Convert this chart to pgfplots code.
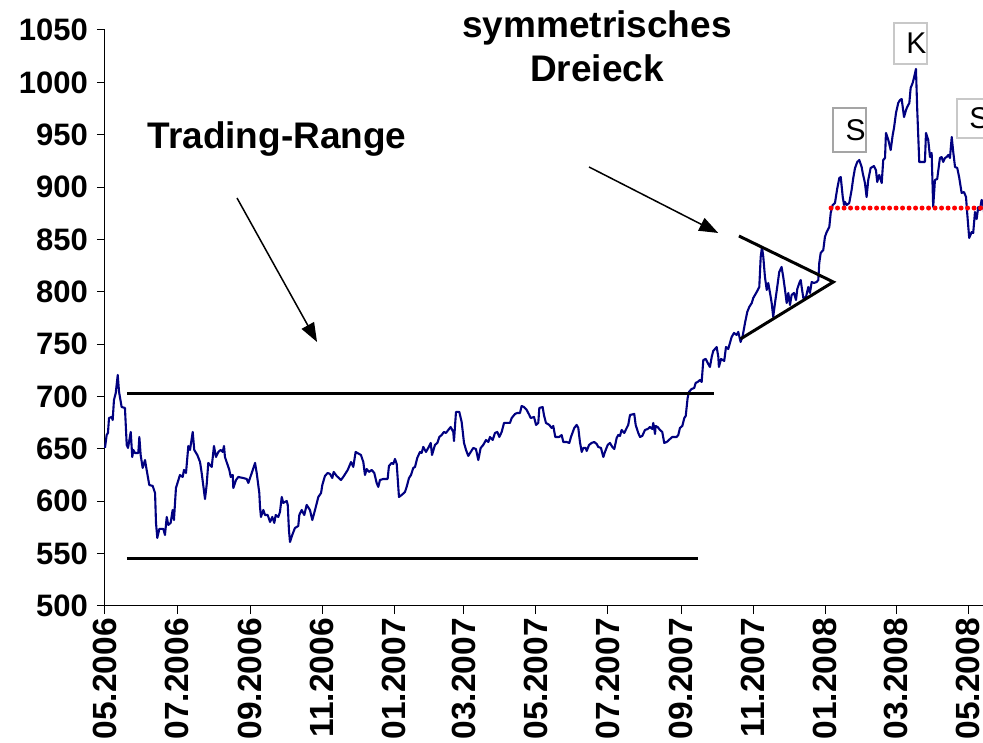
\documentclass[border=0pt]{standalone}
\usepackage{pgfplots}
\pgfplotsset{compat=1.18}
\usepackage{fontspec}
\setmainfont{Liberation Sans}
\usetikzlibrary{arrows.meta}
\definecolor{navy}{RGB}{0,0,128}
\definecolor{boxgrayA}{RGB}{165,165,165}
\definecolor{boxgrayB}{RGB}{200,200,200}
\begin{document}
\begin{tikzpicture}[x=1pt,y=1pt]
\path[use as bounding box, clip] (0,0) rectangle (983,742);
\begin{axis}[
  at={(105pt,136pt)}, anchor=south west,
  scale only axis, width=878pt, height=576pt,
  xmin=0, xmax=743.7, ymin=500, ymax=1050,
  axis lines=left, axis line style={-, line width=1pt, black},
  clip=false,
  xtick={0,61,123,184,245,304,365,426,488,549,610,670,731},
  xticklabels={05.2006,07.2006,09.2006,11.2006,01.2007,03.2007,05.2007,07.2007,09.2007,11.2007,01.2008,03.2008,05.2008},
  ytick={500,550,...,1050},
  tick align=outside, major tick length=8pt,
  tick style={black, line width=1pt},
  /pgf/number format/assume math mode=true,
  /pgf/number format/set thousands separator={},
  yticklabel style={font=\bfseries\fontsize{31}{31}\selectfont, anchor=east, inner sep=0pt},
  yticklabel shift=9pt,
  xticklabel style={font=\bfseries\fontsize{33.5}{33.5}\selectfont, rotate=90, anchor=east, inner sep=0pt},
  xticklabel shift=4pt,
]
\addplot[navy, line width=2.1pt, mark=none, line join=round] coordinates {
(0,651)(1.4,663.3)(2.5,665.2)(3.4,679.5)(5.7,680.5)(6.5,677.6)(7.6,696.7)(9.1,703.4)(10.8,720.6)(11.9,704.4)(14.1,690)(16.9,689.1)(18.4,653.8)(19.5,650.9)(21.8,666.2)(23.1,642.3)(24,649)(25.4,646.1)(28.2,646.1)(29.1,661.4)(30.2,644.2)(31.9,631.8)(33.9,639.4)(35.3,629.9)(37.5,615.6)(40.4,614.6)(42.4,607.9)(43.2,579.3)(44.3,565)(46,573.6)(49.4,573.6)(50.8,567.8)(52.3,585)(53.6,577.4)(55.6,579.3)(57.3,591.7)(58.4,582.1)(60.1,612.7)(63.5,625.1)(65.8,623.2)(66.9,629.9)(68.6,627)(70.6,652.8)(72,649)(74.3,666.2)(75.6,649)(78.2,644.2)(80.5,637.5)(81.9,627)(84.7,602.2)(86.1,615.6)(87.5,636.6)(90.4,632.8)(92.3,652.8)(94,642.3)(96,647.1)(98,649)(99.7,647.1)(100.8,652.8)(101.6,642.3)(105.3,629.9)(106.5,623.2)(108.2,625.1)(108.7,612.7)(111,620.3)(112.9,623.2)(117.1,622.2)(120,621.3)(121.4,617.5)(124.3,627)(127.1,636.6)(128.5,627)(130.7,607.9)(131.3,594.6)
(132.1,585)(134.1,591.7)(135.5,586.9)(137.8,586.9)(139.8,580.2)(141.7,585)(143.4,579.3)(144.6,586.9)(146.8,585)(148.2,589.8)(149.7,604.1)(151,598.4)(153.9,600.3)(154.8,596.5)(155.8,572.6)(156.7,561.1)(158.6,567.8)(160.9,574.5)(163.7,576.4)(164.6,586.9)(166.6,591.7)(168.8,586.9)(170.8,596.5)(173.6,591.7)(175.6,582.1)(177.9,591.7)(180.7,604.1)(183,607.9)(184.1,615.6)(186.3,624.2)(188.6,627)(190.6,626.1)(192.5,622.2)(193.7,628)(196.2,624.2)(199.9,620.3)(201.8,623.2)(205.6,629.9)(208.4,637.5)(210.3,632.8)(212.3,647.1)(216.8,644.2)(218.8,637.5)(220.2,625.1)(221.7,630.8)(223.6,628)(225.9,629.9)(228.1,627)(230.1,617.5)(231.5,613.7)(232.9,620.3)(235.7,621.3)(239.4,621.3)(240.5,633.7)(242.8,636.6)(244.2,635.6)(245.6,640.4)(247.1,635.6)(249,604.1)(251.3,606)(254.1,608.9)(255.5,613.7)(257.5,622.2)(259.2,625.1)(261.1,631.8)(262.6,632.8)
(264.5,641.4)(266.8,647.1)(268.2,646.1)(269.6,651.9)(271.9,647.1)(273.8,650.9)(275.9,655.7)(277,644.2)(279.5,653.8)(281.5,655.7)(283.2,661.4)(285.2,663.3)(287.1,666.2)(288.8,665.2)(290.8,668.1)(292.8,670.9)(295,666.2)(295.6,657.6)(297.3,685.3)(300.1,685.3)(302.1,675.7)(304.1,655.7)(305.8,649)(307.7,643.3)(309.8,647.1)(311.9,650.9)(314.2,649.9)(316.2,639.4)(318.2,650.9)(320.4,653.8)(322.7,658.5)(324.7,656.6)(326.1,661.4)(328.4,658.5)(330.3,665.2)(332.3,666.2)(334,661.4)(336,666.2)(338,674.8)(343,674.8)(344.5,679.5)(347.3,683.4)(349.2,684.3)(351.5,684.3)(352.9,691)(354.9,690)(357.2,687.2)(359.4,682.4)(360.6,679.5)(363.4,680.5)(365.1,672.9)(367,674.8)(367.9,689.1)(370.7,690)(371.8,682.4)(373.5,674.8)(376.3,672.9)(378.3,670)(379.7,671.9)(381.4,661.4)(384.7,661.4)(386.8,663.3)(388.2,656.6)(391,656.6)(393.3,655.7)
(394.7,661.4)(397.5,670)(399.5,672.9)(400.9,670)(402.3,656.6)(403.8,647.1)(405.1,650.9)(407.2,650.9)(408,648)(410,653.8)(412.2,655.7)(414.4,656.6)(416.5,654.7)(417.8,651.9)(420.1,650.9)(422.1,642.3)(423.5,647.1)(425.8,653.8)(427.7,655.7)(429.7,651.9)(431.4,649.9)(433.4,660.5)(434.8,663.3)(436.2,662.4)(437.6,668.1)(439.8,665.2)(441.9,670)(443.2,672.9)(444.7,682.4)(448.3,683.4)(449.5,672.9)(451.7,665.2)(453.2,661.4)(455.1,662.4)(457.4,668.1)(459.7,669)(461.6,670.9)(463.6,669)(464.4,674.8)(465.9,664.3)(466.4,671.9)(468.1,670.9)(470.1,668.1)(472,666.2)(473.7,655.7)(475.8,656.6)(478.6,659.5)(480.5,661.4)(484.2,661.4)(485.6,663.3)(487,670)(489,671.9)(490.7,679.5)(491.9,681.5)(493.5,698.6)(494.6,704.4)(496.9,707.2)(499.1,708.2)(500.3,713)(502,713.9)(504,715.8)(505.4,713.9)(506.8,734.9)(508.8,735.9)(510.5,732.1)(512.4,728.2)(513.9,737.8)(515.2,743.5)(518.1,747.3)(519.5,737.8)(520,728.2)(521.8,735.9)(524.5,734)
(526,747.3)(527.9,745.4)(530.8,756.9)(532.8,760.7)(535,758.8)(536.4,761.7)(538.4,752.1)(540.1,757.8)(542.1,770.2)(544,780.7)(545.7,785.5)(547.8,789.3)(549.1,794.1)(552,799.8)(554.2,804.6)(555.4,833.3)(556.5,842.8)(557.6,833.3)(559,814.2)(560.5,801.8)(561.8,808.4)(563.3,798.9)(564.7,789.3)(566,776)(567.5,789.3)(569.4,804.6)(571.1,818.9)(573.1,823.7)(574.5,814.2)(576,801.8)(577.4,789.3)(578.8,798.9)(580.2,787.4)(581.6,797)(583.6,798.9)(585.3,792.2)(586.4,802.7)(588.1,808.4)(589.3,811.3)(590.1,804.6)(591.5,794.1)(593.8,795.1)(595.7,804.6)(597.1,798.9)(598.6,809.4)(600.5,808.4)(602.8,809.4)(604.2,811.3)(605,827.5)(606.2,837.1)(608.4,839.9)(609.8,852.4)(611.3,857.1)(613.5,861.9)(614.7,875.3)(616.4,882.9)(618.3,884.8)(620.3,899.1)(622,908.7)(623.2,909.6)(624.9,890.5)(626,882.9)(626.8,885.8)(628.2,882.9)(630.4,884.8)(632.4,897.2)(633.8,908.7)(635.3,918.2)(637.2,924)(638.9,925.9)(640.9,919.2)
(641.8,913.5)(643.7,903.9)(645.1,890.5)(646.5,906.8)(648.5,918.2)(651.3,920.1)(653,916.3)(654.1,904.9)(655.8,911.6)(657.9,903.9)(659.2,925.9)(660.7,927.8)(661.5,951.7)(663.5,945)(665.5,935.4)(667.2,949.7)(668.3,956.4)(670,970.8)(671.9,980.3)(673.4,983.2)(674.8,984.1)(675.7,976.5)(676.8,966.9)(678.5,973.6)(679.5,976.5)(681.3,980.3)(682.4,994.6)(684.1,999.4)(685.2,1004.2)(686.9,1012.8)(688,973.6)(689.7,924)(694.5,924)(695.4,951.7)(697.3,945)(698.8,928.7)(700.2,932.6)(701.5,881)(703,906.8)(704.9,907.7)(707.2,927.8)(708.6,928.7)(710,924)(711.5,927.8)(712.9,928.7)(714.3,930.7)(715.7,927.8)(717.2,947.8)(718.5,933.5)(720,919.2)(721.9,918.2)(723.6,908.7)(725.6,894.4)(727.6,895.3)(729.3,890.5)(730.3,875.3)(732,851.4)(734.1,857.1)(735.4,856.2)(736.9,876.2)(738.3,869.5)(739.7,881)(741.1,878.1)(742.5,887.7)(743.6,885.8)(745,872)
};
% trading range lines
\draw[black, line width=3pt] (axis cs:18.6,703) -- (axis cs:515.8,703);
\draw[black, line width=3pt] (axis cs:18.6,545) -- (axis cs:502.3,545);
% triangle
\draw[black, line width=3pt] (axis cs:537,853.3) -- (axis cs:616.9,809.4) -- (axis cs:538.3,755);
% neckline
\draw[red, line width=5pt, line cap=round, dash pattern=on 0pt off 6.5pt] (axis cs:615,880) -- (axis cs:760,880);
% arrows
\draw[black, line width=1.5pt, -{Triangle[length=19pt,width=14pt]}] (axis cs:111.8,889.6) -- (axis cs:179.6,752.1);
\draw[black, line width=1.5pt, -{Triangle[length=19pt,width=14pt]}] (axis cs:410,919.2) -- (axis cs:519.4,856.2);
% texts
\node[font=\bfseries\fontsize{37}{37}\selectfont, anchor=base, inner sep=0pt] at (axis cs:145.7,936.9) {Trading-Range};
\node[font=\bfseries\fontsize{37}{37}\selectfont, anchor=base, inner sep=0pt] at (axis cs:416.7,1042.4) {symmetrisches};
\node[font=\bfseries\fontsize{37}{37}\selectfont, anchor=base, inner sep=0pt] at (axis cs:416.7,1000.4) {Dreieck};
% S K S boxes
\node[draw=boxgrayA, line width=1.5pt, minimum width=33pt, minimum height=44pt, inner sep=0pt, fill=white] (b1) at (axis cs:630.6,954.5) {};
\node[anchor=east, inner sep=1pt, font=\fontsize{30}{30}\selectfont] at (b1.east) {S};
\node[draw=boxgrayB, line width=1.5pt, minimum width=33pt, minimum height=41pt, inner sep=0pt, fill=white] (b2) at (axis cs:682.2,1037.1) {};
\node[anchor=east, inner sep=1pt, font=\fontsize{30}{30}\selectfont] at (b2.east) {K};
\node[draw=boxgrayB, line width=1.5pt, minimum width=33pt, minimum height=39pt, inner sep=0pt, fill=white] (b3) at (axis cs:735.6,965.5) {};
\node[anchor=east, inner sep=1pt, font=\fontsize{30}{30}\selectfont] at (b3.east) {S};
\end{axis}
\end{tikzpicture}
\end{document}
